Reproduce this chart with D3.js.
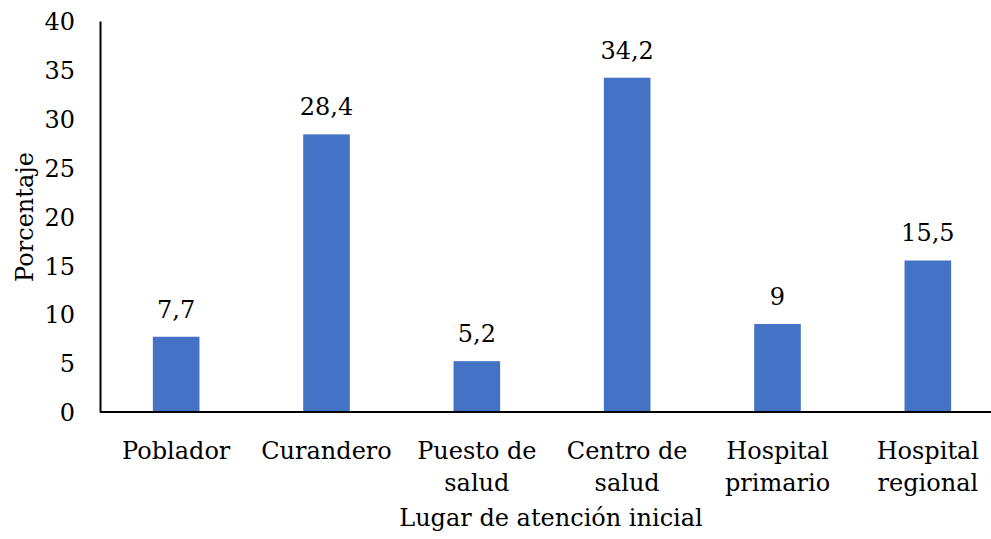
<!DOCTYPE html>
<html><head><meta charset="utf-8">
<script src="https://cdn.jsdelivr.net/npm/d3@7/dist/d3.min.js"></script>
<style>body{margin:0;background:#fff}svg{display:block}</style>
</head><body>
<script>
const categories = [["Poblador"],["Curandero"],["Puesto de","salud"],["Centro de","salud"],["Hospital","primario"],["Hospital","regional"]];
const values = [7.7, 28.4, 5.2, 34.2, 9, 15.5];
const valueLabels = ["7,7","28,4","5,2","34,2","9","15,5"];
const yTicks = [0,5,10,15,20,25,30,35,40];
const yTitle = "Porcentaje";
const xTitle = "Lugar de atención inicial";

const FONT = "'DejaVu Serif', serif";
const FS = 24;
const W = 991, H = 539;
const svg = d3.select("body").append("svg").attr("width", W).attr("height", H)
  .attr("font-family", FONT);
const keys = categories.map((c,i)=>i);
const x = d3.scaleBand().domain(keys).range([101, 1003]).paddingInner(0.69).paddingOuter(0.345);
const y = d3.scaleLinear().domain([0,40]).range([412, 21]);

// bars
svg.selectAll("rect.bar").data(values).enter().append("rect")
  .attr("x",(d,i)=>x(i)).attr("width",x.bandwidth())
  .attr("y",d=>y(d)).attr("height",d=>y(0)-y(d)).attr("fill","#4472C4");

// value labels
svg.selectAll("text.val").data(values).enter().append("text")
  .attr("x",(d,i)=>x(i)+x.bandwidth()/2).attr("y",d=>y(d)-19)
  .attr("text-anchor","middle").attr("font-size",FS).attr("font-family",FONT).text((d,i)=>valueLabels[i]);

// y axis
const yAxis = d3.axisLeft(y).tickValues(yTicks).tickSize(0).tickPadding(25).tickFormat(d3.format("d"));
const gy = svg.append("g").attr("transform","translate(100,0)").call(yAxis);
gy.attr("font-family",FONT).attr("font-size",FS);
gy.select(".domain").attr("stroke","#000").attr("stroke-width",2);
gy.selectAll("text").attr("fill","#000").attr("dy","0.36em");

// x axis
const xAxis = d3.axisBottom(x).tickSize(0).tickFormat(()=> "");
const gx = svg.append("g").attr("transform","translate(0,412)").call(xAxis);
gx.attr("font-family",FONT).attr("font-size",FS);
gx.select(".domain").attr("d","M100,0H991").attr("stroke","#000").attr("stroke-width",2);
gx.selectAll(".tick").each(function(d){
  const t = d3.select(this).select("text").attr("fill","#000").attr("y",0).attr("dy",null);
  categories[d].forEach((line,j)=>{
    t.append("tspan").attr("x",0).attr("y",47+j*32).text(line);
  });
});

// titles
svg.append("text").attr("x",551).attr("y",526).attr("text-anchor","middle").attr("font-size",FS).attr("font-family",FONT).text(xTitle);
svg.append("text").attr("transform","translate(33,217) rotate(-90)").attr("text-anchor","middle").attr("font-size",FS).attr("font-family",FONT).text(yTitle);
</script>
</body></html>
